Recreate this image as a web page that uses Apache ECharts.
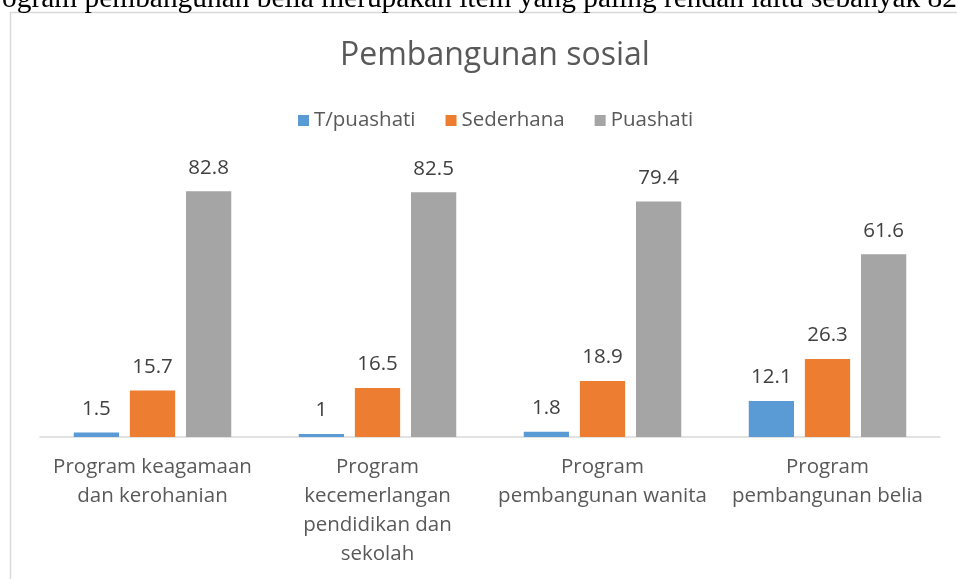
<!DOCTYPE html>
<html>
<head>
    <meta charset="UTF-8">
    <title>Pembangunan sosial</title>
    <script src="https://cdn.jsdelivr.net/npm/echarts@6/dist/echarts.min.js"></script>
    <style>
        html, body { margin: 0; padding: 0; background: #fff; }
        #chart { width: 957px; height: 579px; }
    </style>
</head>
<body>
    <div id="chart"></div>
    <script>
        // data
        var categories = [
            'Program keagamaan\ndan kerohanian',
            'Program\nkecemerlangan\npendidikan dan\nsekolah',
            'Program\npembangunan wanita',
            'Program\npembangunan belia'
        ];
        var seriesNames = ['T/puashati', 'Sederhana', 'Puashati'];
        var tPuashati = [1.5, 1, 1.8, 12.1];
        var sederhana = [15.7, 16.5, 18.9, 26.3];
        var puashati = [82.8, 82.5, 79.4, 61.6];
        var colors = ['#5B9BD5', '#ED7D31', '#A5A5A5'];
        var pageText = 'Program pembangunan belia merupakan item yang paling rendah iaitu sebanyak 82';

        var font = '"Open Sans", "Noto Sans", sans-serif';

        function bar(name, data, i) {
            return {
                name: name,
                type: 'bar',
                data: data,
                barGap: '24%',
                barCategoryGap: '30%',
                itemStyle: { color: colors[i] },
                label: {
                    show: true,
                    position: 'top',
                    distance: 13,
                    color: '#404040',
                    fontFamily: font,
                    fontSize: 20.5
                }
            };
        }

        var chart = echarts.init(document.getElementById('chart'), null, {renderer: 'canvas'});
        chart.setOption({
            animation: false,
            textStyle: { fontFamily: font },
            title: {
                text: 'Pembangunan sosial',
                left: 335,
                top: 35,
                textStyle: { color: '#595959', fontSize: 32, fontWeight: 'normal', fontFamily: font }
            },
            legend: {
                data: seriesNames,
                top: 105,
                left: 293,
                itemWidth: 11,
                itemHeight: 11,
                itemGap: 30,
                icon: 'rect',
                textStyle: { color: '#595959', fontSize: 20.5, fontFamily: font }
            },
            grid: { left: 40, right: 17, top: 170, bottom: 142 },
            xAxis: {
                type: 'category',
                data: categories,
                axisLine: { lineStyle: { color: '#d9d9d9', width: 1.5 } },
                axisTick: { show: false },
                axisLabel: {
                    color: '#595959',
                    fontSize: 20.5,
                    lineHeight: 29,
                    margin: 16,
                    interval: 0,
                    fontFamily: font
                }
            },
            yAxis: {
                type: 'value',
                min: 0,
                max: 90,
                show: false
            },
            graphic: [
                {
                    type: 'rect',
                    shape: { x: 10.5, y: 12.5, width: 1000, height: 1000 },
                    style: { fill: 'none', stroke: '#d9d9d9', lineWidth: 1.5 },
                    silent: true
                },
                {
                    type: 'text',
                    right: 0,
                    top: -15,
                    style: {
                        text: pageText,
                        fill: '#000',
                        font: '29.4px "Liberation Serif", serif'
                    },
                    silent: true
                }
            ],
            series: [
                bar(seriesNames[0], tPuashati, 0),
                bar(seriesNames[1], sederhana, 1),
                bar(seriesNames[2], puashati, 2)
            ]
        });
    </script>
</body>
</html>
